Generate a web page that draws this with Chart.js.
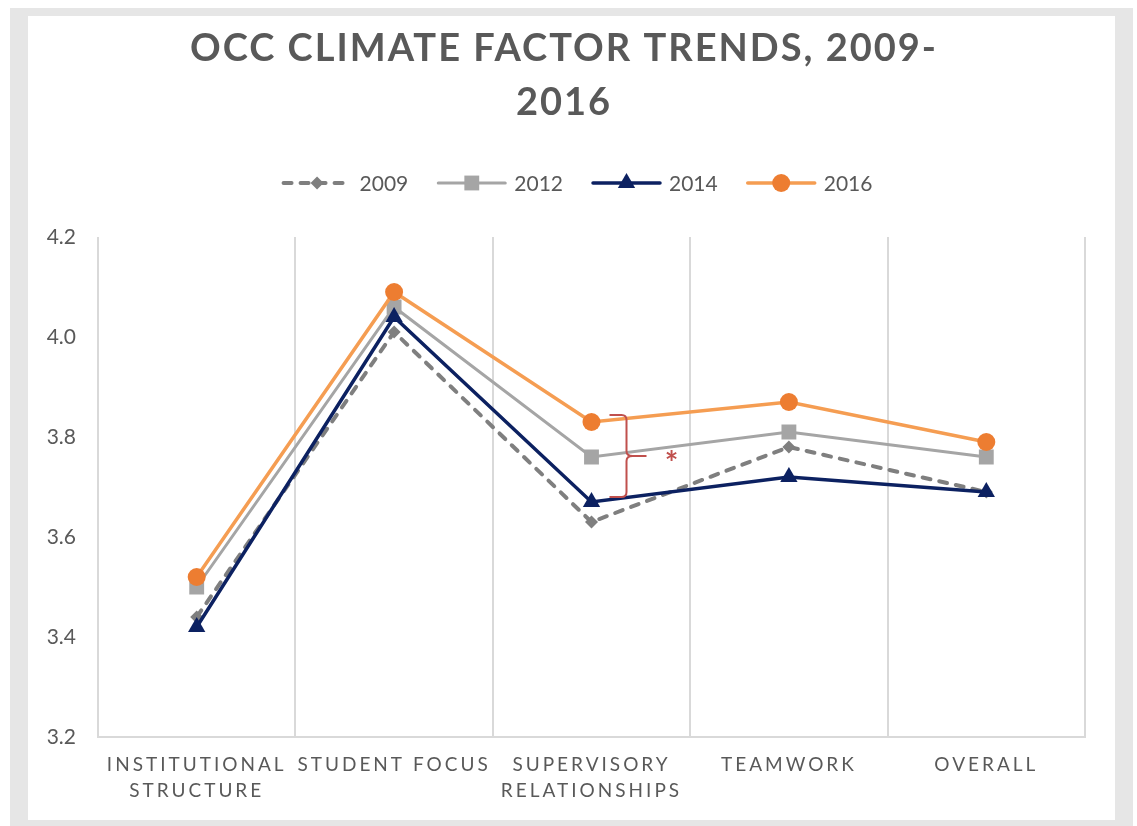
<!DOCTYPE html>
<html>
<head>
    <meta charset="utf-8" />
    <title>OCC Climate Factor Trends</title>
    <script src="https://cdn.jsdelivr.net/npm/chart.js"></script>
    <style>
        html, body { margin: 0; padding: 0; background: #fff; overflow: hidden; }
        #frame {
            position: absolute; left: 10px; top: 8px; width: 1123px; height: 818px;
            box-sizing: border-box; border: 18px solid #e6e6e6;
            border-top-width: 8px; border-bottom-width: 6px; background: #fff;
        }
        #wrap { position: absolute; left: 0; top: 0; width: 1137px; height: 826px; }
    </style>
</head>
<body>
    <div id="frame"></div>
    <div id="wrap"><canvas id="climateChart"></canvas></div>

<script>
    // data
    const categories = [['INSTITUTIONAL', 'STRUCTURE'], 'STUDENT FOCUS', ['SUPERVISORY', 'RELATIONSHIPS'], 'TEAMWORK', 'OVERALL'];
    const years = ['2009', '2012', '2014', '2016'];
    const values2009 = [3.44, 4.01, 3.63, 3.78, 3.69];
    const values2012 = [3.50, 4.06, 3.76, 3.81, 3.76];
    const values2014 = [3.42, 4.04, 3.67, 3.72, 3.69];
    const values2016 = [3.52, 4.09, 3.83, 3.87, 3.79];
    const yTicks = [3.2, 3.4, 3.6, 3.8, 4.0, 4.2];
    const titleLines = ['OCC CLIMATE FACTOR TRENDS, 2009-', '2016'];

    const textGrey = '#595959';
    const gridGrey = '#d9d9d9';

    // x tick labels are spaced out in the original
    const spacedTicks = {
        id: 'spacedTicks',
        afterLayout(chart) {
            const xs = chart.scales.x;
            if (xs._spaced) return;
            const orig = xs.drawLabels;
            xs.drawLabels = function (area) {
                const ctx = this.ctx;
                const prev = ctx.letterSpacing;
                ctx.letterSpacing = '3px';
                orig.call(this, area);
                ctx.letterSpacing = prev;
            };
            xs._spaced = true;
        }
    };

    // title, legend (line + marker) and the red bracket
    const decorations = {
        id: 'decorations',
        afterDraw(chart) {
            const ctx = chart.ctx;
            ctx.save();

            // title
            ctx.font = 'bold 38px Lato';
            ctx.fillStyle = textGrey;
            ctx.textAlign = 'center';
            ctx.textBaseline = 'alphabetic';
            ctx.letterSpacing = '2px';
            titleLines.forEach((t, i) => ctx.fillText(t, 564, 61 + i * 54));
            ctx.letterSpacing = '0px';

            // legend
            ctx.font = '21px Lato';
            ctx.textAlign = 'left';
            ctx.textBaseline = 'middle';
            const lineLen = 71, gap = 7, itemGap = 28, ly = 183;
            const widths = chart.data.datasets.map(d => lineLen + gap + ctx.measureText(d.label).width);
            const total = widths.reduce((a, b) => a + b, 0) + itemGap * (widths.length - 1);
            let x = 577 - total / 2;
            chart.data.datasets.forEach((d, i) => {
                ctx.save();
                ctx.strokeStyle = d.borderColor;
                ctx.lineWidth = d.borderWidth;
                ctx.lineCap = 'round';
                ctx.setLineDash(d.borderDash || []);
                ctx.beginPath();
                ctx.moveTo(x + 2, ly);
                ctx.lineTo(x + lineLen - 2, ly);
                ctx.stroke();
                ctx.setLineDash([]);
                ctx.fillStyle = d.pointBackgroundColor;
                ctx.strokeStyle = d.pointBorderColor;
                Chart.helpers.drawPoint(ctx, { pointStyle: d.pointStyle, radius: d.pointRadius, rotation: 0, borderWidth: 0 }, x + lineLen / 2, ly);
                ctx.restore();
                ctx.fillStyle = textGrey;
                ctx.fillText(d.label, x + lineLen + gap, ly + 1);
                x += widths[i] + itemGap;
            });

            // bracket between 2016 and 2014 at supervisory relationships
            const xs = chart.scales.x, ys = chart.scales.y;
            const bx = xs.getPixelForValue(2) + 35;
            const yTop = ys.getPixelForValue(values2016[2]) - 7;
            const yBot = ys.getPixelForValue(values2014[2]) - 5;
            const ym = (yTop + yBot) / 2;
            ctx.strokeStyle = '#c0504d';
            ctx.lineWidth = 2;
            ctx.beginPath();
            ctx.moveTo(bx - 17, yTop);
            ctx.lineTo(bx - 5, yTop);
            ctx.quadraticCurveTo(bx, yTop, bx, yTop + 5);
            ctx.lineTo(bx, ym - 5);
            ctx.quadraticCurveTo(bx, ym, bx + 6, ym);
            ctx.lineTo(bx + 20, ym);
            ctx.moveTo(bx + 6, ym);
            ctx.quadraticCurveTo(bx, ym, bx, ym + 5);
            ctx.lineTo(bx, yBot - 5);
            ctx.quadraticCurveTo(bx, yBot, bx - 5, yBot);
            ctx.lineTo(bx - 17, yBot);
            ctx.stroke();
            ctx.fillStyle = '#c0504d';
            ctx.font = 'bold 32px Lato';
            ctx.textAlign = 'center';
            ctx.textBaseline = 'alphabetic';
            ctx.fillText('*', bx + 45, ym + 19);

            ctx.restore();
        }
    };

    new Chart(document.getElementById('climateChart'), {
        type: 'line',
        data: {
            labels: categories,
            datasets: [
                {
                    label: years[0], data: values2009, order: 4,
                    borderColor: '#7f7f7f', borderWidth: 4, borderDash: [8, 9], borderCapStyle: 'round',
                    pointStyle: 'rectRot', pointRadius: 6.5, pointBackgroundColor: '#7f7f7f', pointBorderColor: '#7f7f7f', pointBorderWidth: 0
                },
                {
                    label: years[1], data: values2012, order: 3,
                    borderColor: '#a5a5a5', borderWidth: 3,
                    pointStyle: 'rect', pointRadius: 10.5, pointBackgroundColor: '#a5a5a5', pointBorderColor: '#a5a5a5', pointBorderWidth: 0
                },
                {
                    label: years[2], data: values2014, order: 2,
                    borderColor: '#0c2161', borderWidth: 3.5,
                    pointStyle: 'triangle', pointRadius: 10, pointBackgroundColor: '#0c2161', pointBorderColor: '#0c2161', pointBorderWidth: 0
                },
                {
                    label: years[3], data: values2016, order: 1,
                    borderColor: '#f59d52', borderWidth: 3.5,
                    pointStyle: 'circle', pointRadius: 9, pointBackgroundColor: '#ed7d31', pointBorderColor: '#ed7d31', pointBorderWidth: 0
                }
            ]
        },
        options: {
            responsive: true,
            maintainAspectRatio: false,
            animation: false,
            layout: { padding: { top: 237, right: 52, bottom: 29, left: 0 } },
            elements: { line: { tension: 0 } },
            plugins: {
                legend: { display: false },
                title: { display: false },
                tooltip: { enabled: false }
            },
            scales: {
                x: {
                    offset: true,
                    grid: { offset: true, color: gridGrey, lineWidth: 2, drawTicks: false },
                    border: { color: gridGrey, width: 2 },
                    ticks: { color: textGrey, font: { family: 'Lato', size: 19, lineHeight: 1.35 }, padding: 15, maxRotation: 0, autoSkip: false },
                    afterFit: s => { s.height = 60; }
                },
                y: {
                    min: yTicks[0],
                    max: yTicks[yTicks.length - 1],
                    grid: { display: false, drawTicks: false },
                    border: { display: false },
                    ticks: { color: textGrey, font: { family: 'Lato', size: 21 }, padding: 22, callback: v => v.toFixed(1) },
                    afterBuildTicks: s => { s.ticks = yTicks.map(v => ({ value: v })); },
                    afterFit: s => { s.width = 98; }
                }
            }
        },
        plugins: [spacedTicks, decorations]
    });
</script>
</body>
</html>
